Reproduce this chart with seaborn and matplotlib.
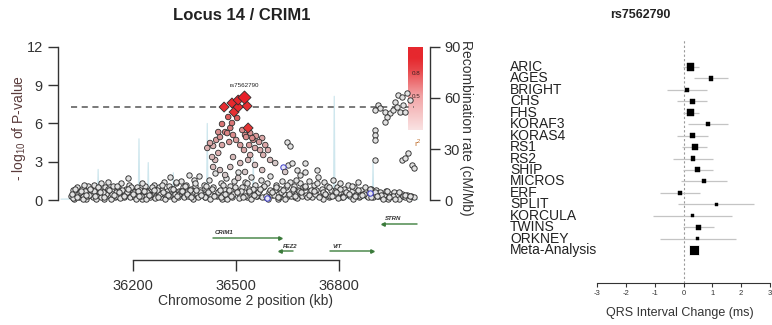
import numpy as np
import pandas as pd
import matplotlib
matplotlib.use("Agg")
import matplotlib.pyplot as plt
import matplotlib.transforms as mtransforms
from matplotlib.colors import LinearSegmentedColormap
import seaborn as sns

# ---------------- data: regional association plot ----------------
# background SNPs (low LD with the lead SNP), position in kb, -log10 P
bg_pos = [
    36020, 36024, 36028, 36033, 36037, 36041, 36046, 36050, 36055, 36060,
    36064, 36068, 36073, 36078, 36082, 36087, 36091, 36096, 36100, 36105,
    36110, 36114, 36119, 36123, 36128, 36133, 36137, 36142, 36146, 36151,
    36156, 36160, 36165, 36170, 36174, 36179, 36184, 36188, 36193, 36197,
    36026, 36039, 36053, 36066, 36080, 36093, 36107, 36121, 36135, 36149,
    36163, 36177, 36190,
    36202, 36206, 36211, 36215, 36220, 36225, 36229, 36234, 36238, 36243,
    36248, 36252, 36257, 36262, 36266, 36271, 36275, 36280, 36285, 36289,
    36294, 36299, 36303, 36308, 36312, 36317, 36322, 36326, 36331, 36335,
    36340, 36345, 36349, 36354, 36358, 36363, 36368, 36372, 36377, 36381,
    36386, 36391, 36395,
    36209, 36223, 36236, 36250, 36264, 36278, 36292, 36305, 36319, 36333,
    36347, 36361, 36375, 36389,
    36400, 36405, 36410, 36416, 36421, 36427, 36432, 36438, 36443, 36449,
    36455, 36460, 36466, 36471, 36477, 36482, 36488, 36494, 36499, 36505,
    36510, 36516, 36522, 36527, 36533, 36539, 36544, 36550, 36556, 36561,
    36567, 36572, 36578, 36584, 36589, 36595, 36600, 36606, 36612, 36617,
    36623, 36628, 36634, 36640, 36645, 36651, 36656, 36662, 36668, 36673,
    36679, 36685, 36690, 36696,
    36408, 36424, 36440, 36457, 36474, 36491, 36508, 36525, 36542, 36559,
    36575, 36592, 36609, 36626, 36643, 36660, 36676, 36693,
    36700, 36705, 36711, 36716, 36722, 36727, 36733, 36738, 36744, 36749,
    36755, 36760, 36766, 36771, 36777, 36782, 36788, 36793, 36799, 36804,
    36810, 36815, 36821, 36826, 36832, 36837, 36843, 36848, 36854, 36859,
    36865, 36870, 36876, 36881, 36887, 36892, 36898, 36903, 36909, 36914,
    36920, 36925, 36931, 36936, 36942, 36948, 36953, 36959, 36965, 36970,
    36976, 36982, 36987, 36993, 36999, 37005, 37011, 37017,
    36708, 36730, 36752, 36774, 36796, 36818, 36840, 36862, 36884,
    36031, 36044, 36057, 36071, 36085, 36098, 36112, 36126, 36139, 36153,
    36167, 36181, 36195, 36213, 36227, 36241, 36255, 36269, 36283, 36297,
    36311, 36324, 36338, 36352, 36366, 36380, 36394, 36413, 36429, 36446,
    36463, 36480, 36497, 36514, 36531, 36548, 36565, 36582, 36598, 36615,
    36632, 36649, 36666, 36683, 36702, 36719, 36736, 36753, 36770, 36787,
    36804, 36821, 36838, 36855, 36872, 36889, 36906, 36923, 36940, 36957,
    36974, 36991, 37008,
    36022, 36035, 36048, 36062, 36075, 36089, 36103, 36116, 36130, 36144,
    36158, 36172, 36186, 36199, 36218, 36232, 36246, 36260, 36273, 36287,
    36301, 36315, 36329, 36343, 36356, 36370, 36384, 36398, 36419, 36435,
    36452, 36469, 36486, 36503, 36520, 36537, 36553, 36570, 36587, 36604,
    36621, 36638, 36654, 36671, 36688, 36713, 36727, 36741, 36758, 36779,
    36792, 36812, 36829, 36846, 36868, 36893, 36911, 36929, 36946, 36962,
    36649, 36657, 36652, 36663, 36678, 36686, 36701, 36736, 36701, 36675,
    36914, 36920, 36905, 36934, 36949, 36957, 36963, 36972, 36984, 36998,
    36987, 36978, 36992, 36940, 36934, 36905, 36905, 36905, 36905, 36984,
    37001, 37013, 37019, 36992, 36969, 37007,
]
bg_logp = [
    0.3, 0.8, 0.1, 0.6, 1.0, 0.2, 0.5, 0.9, 0.3, 0.7,
    0.1, 1.1, 0.4, 0.8, 0.2, 1.2, 0.6, 0.3, 0.9, 1.3,
    0.5, 0.1, 1.0, 0.7, 1.4, 0.3, 0.8, 1.1, 0.2, 0.6,
    1.0, 0.4, 1.3, 0.7, 0.2, 0.9, 1.7, 1.2, 0.3, 0.8,
    0.15, 0.45, 0.05, 0.35, 0.55, 0.1, 0.25, 0.45, 0.05, 0.3,
    0.15, 0.5, 0.2,
    0.6, 0.2, 1.0, 0.4, 0.8, 0.1, 0.5, 1.1, 0.3, 0.7,
    0.2, 0.9, 0.5, 1.2, 0.3, 0.6, 1.0, 0.2, 0.8, 1.4,
    0.4, 0.7, 1.1, 1.8, 0.3, 0.9, 0.5, 1.3, 0.2, 0.7,
    1.5, 1.0, 0.4, 1.2, 0.6, 2.0, 0.9, 0.3, 1.6, 1.1,
    0.5, 1.9, 0.8,
    0.1, 0.35, 0.05, 0.4, 0.15, 0.5, 0.1, 0.3, 0.05, 0.45,
    0.2, 0.35, 0.1, 0.25,
    0.5, 1.2, 0.2, 0.8, 1.6, 0.4, 1.0, 2.1, 0.3, 0.7,
    1.3, 0.1, 0.9, 1.7, 0.5, 1.1, 0.2, 1.5, 0.8, 2.2,
    0.4, 1.0, 0.6, 1.4, 0.2, 0.9, 1.8, 0.5, 1.2, 0.3,
    0.7, 1.6, 1.0, 0.2, 1.3, 0.6, 1.9, 0.4, 0.8, 1.2,
    0.1, 0.9, 1.5, 0.5, 1.0, 0.3, 1.4, 0.7, 1.1, 0.2,
    0.8, 1.3, 0.4, 1.0,
    0.2, 0.05, 0.4, 0.25, 0.1, 0.45, 0.15, 0.3, 0.05, 0.35,
    0.2, 0.1, 0.4, 0.25, 0.05, 0.3, 0.15, 0.35,
    1.0, 0.4, 1.5, 0.7, 0.2, 1.2, 0.8, 1.8, 0.3, 0.9,
    1.4, 0.5, 1.1, 0.2, 0.8, 1.6, 0.4, 1.0, 0.6, 1.3,
    0.2, 0.9, 0.5, 1.2, 0.3, 0.7, 1.0, 0.4, 1.4, 0.2,
    0.8, 0.5, 1.0, 0.3, 0.6, 0.9, 0.2, 0.5, 0.8, 0.3,
    0.6, 0.2, 0.4, 0.7, 0.1, 0.5, 0.3, 0.6, 0.2, 0.4,
    0.1, 0.5, 0.3, 0.2, 0.4, 0.1, 0.3, 0.2,
    0.2, 0.5, 0.1, 0.35, 0.15, 0.4, 0.1, 0.3, 0.2,
    0.9, 0.6, 1.2, 0.4, 0.7, 1.0, 0.6, 0.9, 0.5, 1.1,
    0.8, 0.6, 1.0, 0.7, 1.3, 0.6, 1.0, 0.8, 1.2, 0.5,
    0.9, 1.4, 0.7, 1.1, 0.8, 1.3, 0.6, 1.1, 0.9, 0.6,
    1.2, 0.8, 1.0, 0.7, 1.3, 0.9, 0.6, 1.1, 0.8, 1.0,
    0.6, 1.2, 0.9, 0.7, 1.1, 0.8, 1.3, 0.6, 1.0, 0.7,
    0.9, 0.6, 1.1, 0.8, 0.5, 0.9, 0.6, 0.4, 0.7, 0.3,
    0.6, 0.4, 0.3,
    0.5, 0.2, 0.7, 0.4, 0.9, 0.3, 0.6, 0.2, 0.8, 0.4,
    0.6, 0.3, 0.9, 0.5, 0.3, 0.7, 0.4, 0.8, 0.2, 0.6,
    0.4, 0.9, 0.3, 0.7, 0.5, 0.2, 0.8, 0.4, 0.6, 0.3,
    0.8, 0.5, 0.3, 0.6, 0.2, 0.7, 0.4, 0.9, 0.3, 0.6,
    0.2, 0.8, 0.5, 0.3, 0.6, 0.4, 0.7, 0.2, 0.5, 0.3,
    0.6, 0.2, 0.5, 0.3, 0.4, 0.2, 0.3, 0.1, 0.2, 0.1,
    4.55, 4.24, 2.75, 2.90, 2.35, 1.96, 2.90, 2.35, 2.20, 1.57,
    7.45, 7.22, 7.06, 6.90, 6.82, 7.06, 7.69, 8.24, 8.08, 8.39,
    7.45, 6.90, 6.90, 6.51, 6.12, 5.49, 5.10, 4.71, 3.14, 3.14,
    3.69, 2.75, 2.51, 3.29, 7.29, 7.84,
]

# SNPs in LD with the lead SNP (position kb, -log10 P, r^2)
ld_pos = [
    36523, 36506, 36488, 36465, 36506, 36532, 36494, 36477, 36503, 36459,
    36488, 36468, 36448, 36535, 36526, 36547,
    36416, 36424, 36433, 36442, 36448, 36453, 36459, 36430, 36439, 36474,
    36483, 36491, 36480, 36500, 36518, 36529, 36541, 36550, 36558, 36567,
    36576, 36585, 36538, 36555, 36570, 36523, 36593, 36579, 36541, 36512,
    36433, 36453, 36491, 36512, 36535, 36483, 36468, 36526, 36506, 36555,
    36576, 36599, 36614, 36643,
]
ld_logp = [
    8.08, 7.84, 7.61, 7.29, 7.29, 7.37, 6.90, 6.51, 6.43, 5.96,
    6.04, 5.33, 5.33, 5.65, 5.10, 4.86,
    4.08, 4.47, 4.24, 4.71, 3.69, 4.94, 4.31, 3.37, 3.14, 5.25,
    5.65, 5.10, 4.55, 4.71, 5.49, 4.94, 5.25, 4.71, 5.02, 4.55,
    4.86, 4.31, 4.31, 4.08, 3.92, 3.92, 3.92, 3.53, 3.53, 4.31,
    2.59, 2.35, 3.37, 2.90, 3.14, 2.59, 1.96, 2.20, 1.73, 2.75,
    2.35, 3.14, 2.90, 2.20,
]
ld_r2 = [
    1.00, 0.95, 0.93, 0.90, 0.92, 0.90, 0.88, 0.70, 0.70, 0.62,
    0.62, 0.55, 0.50, 0.85, 0.50, 0.50,
    0.30, 0.35, 0.30, 0.40, 0.30, 0.45, 0.35, 0.25, 0.20, 0.55,
    0.60, 0.50, 0.45, 0.40, 0.50, 0.50, 0.45, 0.45, 0.40, 0.40,
    0.35, 0.35, 0.40, 0.35, 0.30, 0.35, 0.30, 0.30, 0.30, 0.40,
    0.20, 0.15, 0.20, 0.20, 0.20, 0.15, 0.10, 0.10, 0.10, 0.15,
    0.15, 0.20, 0.10, 0.10,
]
lead_snp = "rs7562790"

# SNPs with no LD information
na_pos = [36637, 36590, 36890]
na_logp = [2.59, 0.16, 0.55]

# recombination rate (cM/Mb)
rec_pos = [35990, 36060, 36096, 36098, 36100, 36150, 36215, 36217, 36219, 36242,
           36244, 36246, 36315, 36317, 36319, 36380, 36414, 36416, 36418, 36470,
           36548, 36550, 36552, 36600, 36650, 36700, 36784, 36786, 36788, 36830,
           36897, 36899, 36901, 36950, 37030]
rec_rate = [0.5, 0.8, 1.0, 18, 1.0, 0.6, 1.0, 36, 1.0, 1.0,
            22, 1.0, 1.0, 16, 1.0, 0.8, 1.0, 45, 1.0, 1.5,
            1.0, 25, 1.0, 2.0, 1.5, 1.0, 1.0, 61, 1.0, 0.8,
            1.0, 22, 1.0, 0.5, 0.3]

# genes (kb)
gene_names = ["CRIM1", "FEZ2", "VIT", "STRN"]
gene_start = [36433, 36629, 36774, 36929]
gene_end = [36629, 36666, 36897, 37028]
gene_strand = ["+", "-", "+", "-"]
gene_row = [2, 1, 1, 3]

gwas_threshold = -np.log10(5e-8)
x_ticks = [36200, 36500, 36800]

# ---------------- data: forest plot ----------------
studies = ["ARIC", "AGES", "BRIGHT", "CHS", "FHS", "KORAF3", "KORAS4", "RS1",
           "RS2", "SHIP", "MICROS", "ERF", "SPLIT", "KORCULA", "TWINS", "ORKNEY"]
est = [0.25, 0.95, 0.11, 0.31, 0.25, 0.85, 0.31, 0.39,
       0.32, 0.50, 0.71, -0.12, 1.13, 0.32, 0.53, 0.50]
lo = [-0.03, 0.38, -0.56, -0.21, -0.03, 0.14, -0.24, -0.05,
      -0.35, -0.03, -0.10, -0.82, -0.18, -1.05, -0.03, -0.82]
hi = [0.55, 1.56, 0.83, 0.80, 0.55, 1.56, 0.86, 0.83,
      1.01, 1.04, 1.52, 0.57, 2.45, 1.67, 1.06, 1.82]
meta_name = "Meta-Analysis"
meta_est, meta_lo, meta_hi = 0.36, 0.25, 0.47
forest_ticks = [-3, -2, -1, 0, 1, 2, 3]

# ---------------- styling ----------------
sns.set_theme(style="white")
plt.rcParams['font.family'] = ['Liberation Sans', 'DejaVu Sans']
plt.rcParams['axes.edgecolor'] = '#333333'
plt.rcParams['mathtext.fontset'] = 'custom'
plt.rcParams['mathtext.rm'] = 'Liberation Sans'

W, H = 772, 325
fig = plt.figure(figsize=(W / 100, H / 100), dpi=100)


def fbox(x0, y0, x1, y1):
    return [x0 / W, 1 - y1 / H, (x1 - x0) / W, (y1 - y0) / H]


ld_cmap = LinearSegmentedColormap.from_list(
    "ld", [(0.0, "#d2d2d2"), (0.3, "#dcb0b0"), (0.6, "#d87a7a"),
           (0.85, "#e63434"), (1.0, "#e8202a")])
bar_cmap = LinearSegmentedColormap.from_list(
    "bar", [(0.0, "#fbeaea"), (0.5, "#f2a4a6"), (0.85, "#e84448"),
            (1.0, "#e6282e")])

XLIM = (35981, 37065)
txt = '#333333'
edge = "#2e2e2e"

# main association axes
ax = fig.add_axes(fbox(58, 43.8, 430, 203.2))
ax2 = ax.twinx()
ax.set_zorder(ax2.get_zorder() + 1)
ax.patch.set_visible(False)

rec_df = pd.DataFrame({"pos": rec_pos, "rate": rec_rate})
sns.lineplot(data=rec_df, x="pos", y="rate", ax=ax2, color="#cfe7ee",
             linewidth=0.9, estimator=None, sort=True)
ax2.set_ylim(-0.25 * 7.5, 12.25 * 7.5)
ax2.set_xlim(*XLIM)

bg_df = pd.DataFrame({"pos": bg_pos, "logp": bg_logp})
sns.scatterplot(data=bg_df, x="pos", y="logp", ax=ax, color="#e2e2e2",
                edgecolor=edge, linewidth=0.65, s=15, legend=False, zorder=2)
sns.scatterplot(x=na_pos, y=na_logp, ax=ax, color="#e6e6f6",
                edgecolor="#3c3cc8", linewidth=0.7, s=15, legend=False, zorder=2)

ld_df = pd.DataFrame({"pos": ld_pos, "logp": ld_logp, "r2": ld_r2}).sort_values("r2")
low = ld_df[ld_df.r2 < 0.85]
high = ld_df[(ld_df.r2 >= 0.85) & (ld_df.r2 < 1.0)]
lead = ld_df[ld_df.r2 >= 1.0]
sns.scatterplot(data=low, x="pos", y="logp", hue="r2", palette=ld_cmap,
                hue_norm=(0, 1), ax=ax, edgecolor=edge, linewidth=0.6,
                s=16, legend=False, zorder=3)
sns.scatterplot(data=high, x="pos", y="logp", hue="r2", palette=ld_cmap,
                hue_norm=(0, 1), ax=ax, marker="D", edgecolor=edge,
                linewidth=0.6, s=26, legend=False, zorder=4)
sns.scatterplot(data=lead, x="pos", y="logp", hue="r2", palette=ld_cmap,
                hue_norm=(0, 1), ax=ax, marker="D", edgecolor=edge,
                linewidth=0.6, s=44, legend=False, zorder=5)
lead_row = ld_df.loc[ld_df.r2.idxmax()]
ax.text(lead_row.pos, lead_row.logp + 0.7, lead_snp, fontsize=4.5,
        ha="center", va="bottom", color="#222222", zorder=6)

ax.hlines(gwas_threshold, min(bg_pos), max(bg_pos), color="#555555", lw=1.1,
          ls=(0, (4, 3)), zorder=1)

ax.set_xlim(*XLIM)
ax.set_ylim(-0.25, 12.25)
ax.set_xticks([])
ax.set_yticks([0, 3, 6, 9, 12])
ax.set_xlabel("")
ax.set_ylabel("")
for s in ["top", "bottom", "right"]:
    ax.spines[s].set_visible(False)
ax.spines["left"].set_bounds(0, 12)
ax.spines["left"].set_linewidth(1.0)
ax.tick_params(axis="y", length=7, width=1, pad=4, labelsize=10.5,
               colors=txt, left=True)

ax2.set_yticks([0, 30, 60, 90])
ax2.set_xlabel("")
ax2.set_ylabel("")
for s in ["top", "bottom", "left"]:
    ax2.spines[s].set_visible(False)
ax2.spines["right"].set_bounds(0, 90)
ax2.spines["right"].set_linewidth(1.0)
ax2.tick_params(axis="y", length=7, width=1, pad=3, labelsize=10.5,
                colors=txt, right=True)
ax2.grid(False)
ax.grid(False)

fig.text(19 / W, 1 - 128 / H, r"- log$_{10}$ of P-value", rotation=90,
         ha="center", va="center", fontsize=10, color="#5a3c3c")
fig.text(466 / W, 1 - 128 / H, "Recombination rate (cM/Mb)", rotation=270,
         ha="center", va="center", fontsize=10, color=txt)
fig.text(242 / W, 1 - 16 / H, "Locus 14 / CRIM1", ha="center", va="center",
         fontsize=12, fontweight="bold", color="#222222")

# r^2 legend bar
cax = fig.add_axes(fbox(408, 47, 423, 130))
r2_top, r2_bottom = 1.14, 0.056
grad = np.linspace(r2_top, r2_bottom, 200).reshape(-1, 1)
cax.imshow(np.clip(grad, 0, 1), aspect="auto", cmap=bar_cmap, vmin=0, vmax=1,
           extent=[0, 1, r2_bottom, r2_top], origin="upper")
cax.set_ylim(r2_bottom, r2_top)
cax.set_axis_off()
for v in (0.8, 0.5):
    cax.text(0.55, v, f"{v:.1f}", fontsize=4.5, ha="center", va="center",
             color="#3a2020")
fig.text(418 / W, 1 - 143 / H, r"r$^2$", fontsize=6, ha="center",
         va="center", color="#c07030")

# gene track + x axis
gx = fig.add_axes(fbox(58, 212, 430, 260))
gx.set_xlim(*XLIM)
gx.set_ylim(0, 48)
row_y = {1: 9, 2: 22, 3: 36}
for name, st, en, strand, row in zip(gene_names, gene_start, gene_end,
                                     gene_strand, gene_row):
    y = row_y[row]
    gx.plot([st, en], [y, y], color="#4e8a4e", lw=1.1)
    tip = en if strand == "+" else st
    gx.plot([tip], [y], marker=">" if strand == "+" else "<", ms=2.5,
            color="#3a7a3a")
    gx.text(st + 6, y + 2.5, name, fontsize=4.3, style="italic",
            fontweight="bold", color="#333333", ha="left", va="bottom")
for s in ["top", "left", "right"]:
    gx.spines[s].set_visible(False)
gx.spines["bottom"].set_bounds(x_ticks[0], x_ticks[-1])
gx.spines["bottom"].set_linewidth(1.0)
gx.set_xticks(x_ticks)
gx.set_xticklabels([str(t) for t in x_ticks])
gx.set_yticks([])
gx.tick_params(axis="x", length=8, width=1, pad=6, labelsize=10.5,
               colors=txt, bottom=True)
gx.patch.set_visible(False)
fig.text(245 / W, 1 - 301 / H, "Chromosome 2 position (kb)", ha="center",
         va="center", fontsize=10, color=txt)

# ---------------- forest plot ----------------
fx = fig.add_axes(fbox(597, 40, 770, 283))
rows = list(range(len(studies)))
width = np.array(hi) - np.array(lo)
fdf = pd.DataFrame({"study": studies, "row": rows, "est": est,
                    "weight": 1.0 / width})
fx.hlines(rows, lo, hi, color="#c4c4c4", lw=0.9, zorder=1)
sns.scatterplot(data=fdf, x="est", y="row", size="weight", sizes=(4, 26),
                marker="s", color="black", edgecolor="black", linewidth=0.3,
                ax=fx, legend=False, zorder=3)
meta_row = len(studies)
fx.hlines([meta_row], [meta_lo], [meta_hi], color="#c4c4c4", lw=0.9)
sns.scatterplot(x=[meta_est], y=[meta_row], marker="s", s=55, color="black",
                ax=fx, legend=False, zorder=3)
fx.axvline(0, color="#9a9a9a", lw=0.8, ls=(0, (2, 2)), zorder=0)
fx.set_xlim(-3, 3)
fx.set_ylim(18.88, -2.36)
fx.set_xlabel("")
fx.set_ylabel("")
fx.set_yticks([])
fx.set_xticks(forest_ticks)
fx.set_xticklabels([str(t) for t in forest_ticks])
for s in ["top", "left", "right"]:
    fx.spines[s].set_visible(False)
fx.spines["bottom"].set_bounds(forest_ticks[0], forest_ticks[-1])
fx.spines["bottom"].set_linewidth(0.8)
fx.tick_params(axis="x", length=3, width=0.8, pad=2, labelsize=5.5,
               colors=txt, bottom=True)
fx.patch.set_visible(False)
fx.grid(False)

lab_tr = mtransforms.blended_transform_factory(fig.transFigure, fx.transData)
for name, r in zip(studies + [meta_name], rows + [meta_row]):
    fx.text(510 / W, r, name, transform=lab_tr, fontsize=10, ha="left",
            va="center", color="#222222")

fig.text(640 / W, 1 - 15 / H, lead_snp, ha="center", va="center",
         fontsize=9, fontweight="bold", color="#222222")
fig.text(680 / W, 1 - 313 / H, "QRS Interval Change (ms)", ha="center",
         va="center", fontsize=9, color=txt)

fig.savefig("out.png", dpi=100)
